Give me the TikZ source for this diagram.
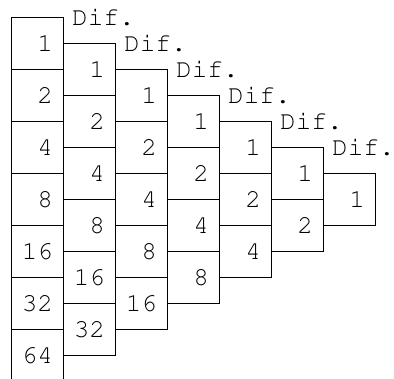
\documentclass[tikz,border=0pt]{standalone}
\usepackage[T1]{fontenc}
\usepackage{courier}
\begin{document}
\begin{tikzpicture}[x=1pt,y=-1pt,
  cell/.style={draw, line width=0.9pt, rectangle, minimum width=52pt, minimum height=52pt,
    inner xsep=10pt, inner ysep=0pt, text width=32pt, align=right,
    font=\ttfamily\fontsize{26}{30}\selectfont},
  diflabel/.style={anchor=base west, inner sep=0pt, font=\ttfamily\fontsize{26}{30}\selectfont}]
\useasboundingbox (0,0) rectangle (394,379);
\clip (0,0) rectangle (394,379);
\foreach \c in {0,...,6}{
  \pgfmathtruncatemacro{\n}{6-\c}
  \foreach \k in {0,...,\n}{
    \pgfmathtruncatemacro{\v}{2^\k}
    \node[cell] (c\c-\k) at ({37+52*\c},{43+26*\c+52*\k}) {\v};
  }
}
\foreach \c in {1,...,6}
  \node[diflabel] (d\c) at ({11+52*\c+9},{26*\c}) {Dif.};
\end{tikzpicture}
\end{document}
